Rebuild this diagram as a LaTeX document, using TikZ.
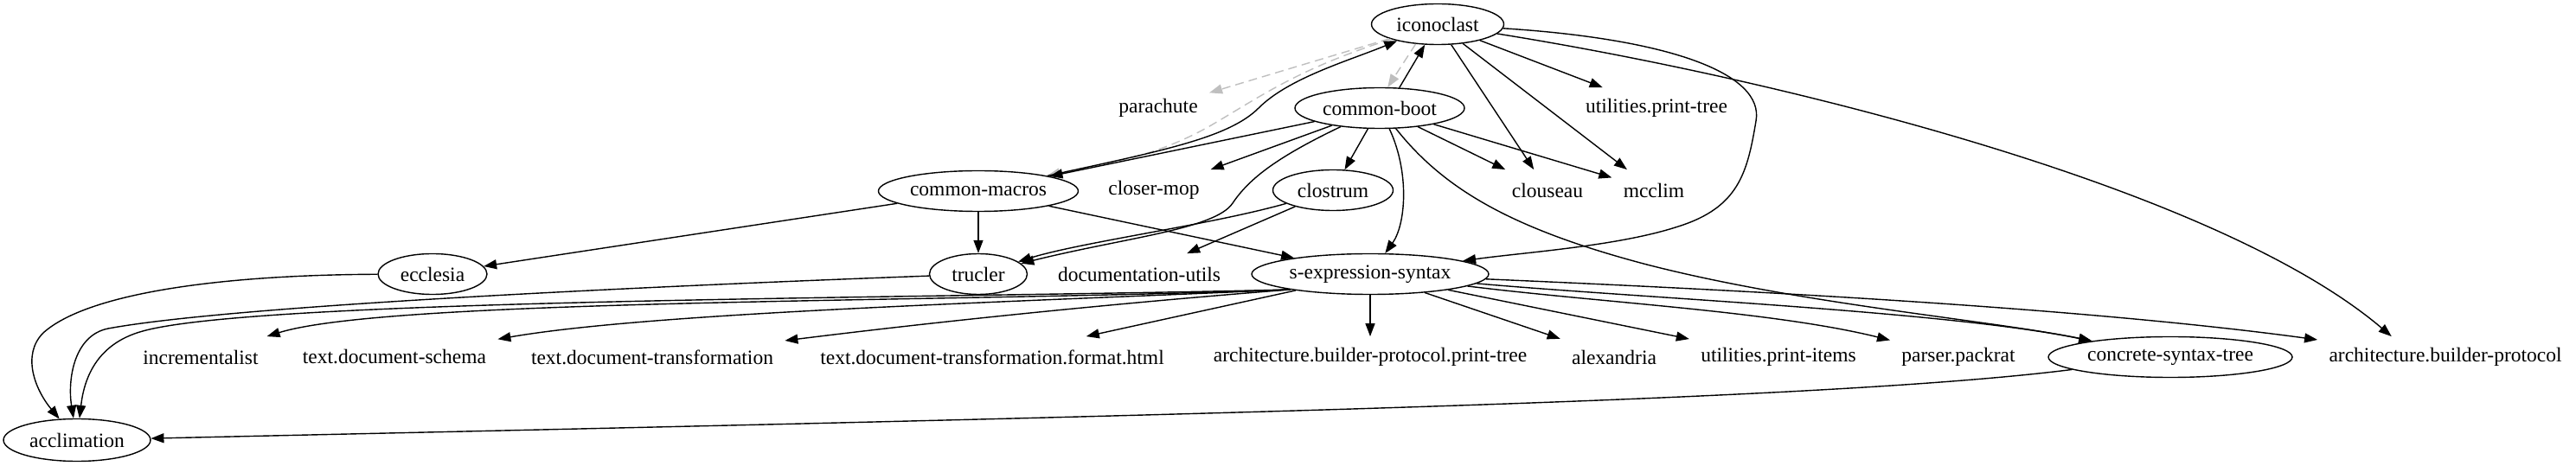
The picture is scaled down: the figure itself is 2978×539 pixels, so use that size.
\documentclass[tikz,border=0pt]{standalone}
\usepackage{fontspec}
\setmainfont{Liberation Serif}
\usetikzlibrary{arrows.meta,shapes.geometric}
\begin{document}
\begin{tikzpicture}[x=0.5pt,y=-0.5pt,
  every node/.style={font=\fontsize{11.75}{14}\selectfont},
  nd/.style={ellipse,draw,line width=0.7pt,inner sep=0pt,minimum height=23.5pt},
  pl/.style={rectangle,inner xsep=6.5pt,inner ysep=0pt,minimum height=23.5pt},
  dep/.style={line width=0.7pt,-{Triangle[length=7.5pt,width=5.5pt]}},
  gdep/.style={dep,color=gray!50,dash pattern=on 5pt off 3pt}]
\fill[white] (0,0) rectangle (2978,539);
\useasboundingbox (0,0) rectangle (2978,539);

% nodes
\node[nd,minimum width=76.5pt] (icon) at (1662,28) {iconoclast};
\node[nd,minimum width=98pt] (cboot) at (1595,125) {common-boot};
\node[pl] (parachute) at (1339,125) {parachute};
\node[pl] (upt) at (1915,125) {utilities.print-tree};
\node[nd,minimum width=115.5pt] (cmacros) at (1131,221) {common-macros};
\node[pl] (cmop) at (1334,220) {closer-mop};
\node[nd,minimum width=69.5pt] (clostrum) at (1541,220) {clostrum};
\node[pl] (clouseau) at (1789,220) {clouseau};
\node[pl] (mcclim) at (1912,220) {mcclim};
\node[nd,minimum width=63pt] (ecclesia) at (500,317) {ecclesia};
\node[nd,minimum width=56.5pt] (trucler) at (1131,317) {trucler};
\node[pl] (docu) at (1317,317) {documentation-utils};
\node[nd,minimum width=137pt] (sexp) at (1584,317) {s-expression-syntax};
\node[pl] (incr) at (232,413) {incrementalist};
\node[pl] (tds) at (456,413) {text.document-schema};
\node[pl] (tdt) at (754,413) {text.document-transformation};
\node[pl] (html) at (1147,413) {text.document-transformation.format.html};
\node[pl] (abpt) at (1584,413) {architecture.builder-protocol.print-tree};
\node[pl] (alex) at (1866,413) {alexandria};
\node[pl] (upi) at (2056,413) {utilities.print-items};
\node[pl] (pp) at (2264,413) {parser.packrat};
\node[nd,minimum width=141pt] (cst) at (2509,413) {concrete-syntax-tree};
\node[pl] (abp) at (2827,413) {architecture.builder-protocol};
\node[nd,minimum width=85pt,minimum height=24.5pt] (accl) at (89,509) {acclimation};

% gray dashed edges
\draw[gdep] (icon) -- (parachute);
\draw[gdep] (icon) .. controls (1500,80) and (1460,110) .. (1400,145) .. controls (1330,185) and (1270,190) .. (cmacros);
\draw[gdep] (icon.222) -- (cboot.69);

% iconoclast
\draw[dep] (cboot.46) -- (icon.238);
\draw[dep] (icon) -- (upt);
\draw[dep] (icon) -- (clouseau);
\draw[dep] (icon) -- (mcclim);
\draw[dep] (icon) .. controls (1930,45) and (2040,85) .. (2030,140) .. controls (2020,200) and (2010,240) .. (1940,262) .. controls (1870,285) and (1760,292) .. (sexp);
\draw[dep] (icon) .. controls (2050,90) and (2560,215) .. (abp.159);

% common-boot
\draw[dep] (cboot) -- (cmacros);
\draw[dep] (cboot) -- (cmop);
\draw[dep] (cboot) -- (clostrum);
\draw[dep] (cboot) -- (clouseau);
\draw[dep] (cboot) -- (mcclim);
\draw[dep] (cboot) .. controls (1480,180) and (1445,205) .. (1425,235) .. controls (1405,265) and (1300,275) .. (trucler);
\draw[dep] (cboot) .. controls (1630,200) and (1625,260) .. (sexp);
\draw[dep] (cboot) .. controls (1670,220) and (1750,265) .. (1900,305) .. controls (2080,352) and (2300,370) .. (cst);

% common-macros
\draw[dep] (cmacros) .. controls (1340,175) and (1420,160) .. (1455,125) .. controls (1490,90) and (1560,70) .. (icon);
\draw[dep] (cmacros) -- (ecclesia);
\draw[dep] (cmacros) -- (trucler);
\draw[dep] (cmacros) -- (sexp);

% clostrum
\draw[dep] (clostrum) .. controls (1400,260) and (1250,280) .. (trucler);
\draw[dep] (clostrum) -- (docu);

% to acclimation
\draw[dep] (trucler) .. controls (700,333) and (260,355) .. (125,380) .. controls (85,388) and (78,440) .. (accl);
\draw[dep] (ecclesia) .. controls (250,318) and (100,340) .. (50,385) .. controls (25,410) and (40,450) .. (accl);
\draw[dep] (sexp.191) .. controls (1100,345) and (300,345) .. (165,383) .. controls (110,398) and (97,440) .. (accl);
\draw[dep] (cst) .. controls (2100,465) and (1300,482) .. (accl);

% s-expression-syntax
\draw[dep] (sexp.191) .. controls (1100,350) and (450,345) .. (incr);
\draw[dep] (sexp.191) .. controls (1150,350) and (750,362) .. (tds);
\draw[dep] (sexp.191) .. controls (1300,350) and (1100,370) .. (tdt);
\draw[dep] (sexp) -- (html);
\draw[dep] (sexp) -- (abpt);
\draw[dep] (sexp) -- (alex);
\draw[dep] (sexp) -- (upi);
\draw[dep] (sexp) .. controls (1850,350) and (2050,360) .. (pp);
\draw[dep] (sexp) .. controls (1900,345) and (2250,360) .. (cst);
\draw[dep] (sexp) .. controls (2000,335) and (2400,355) .. (abp);
\end{tikzpicture}
\end{document}
